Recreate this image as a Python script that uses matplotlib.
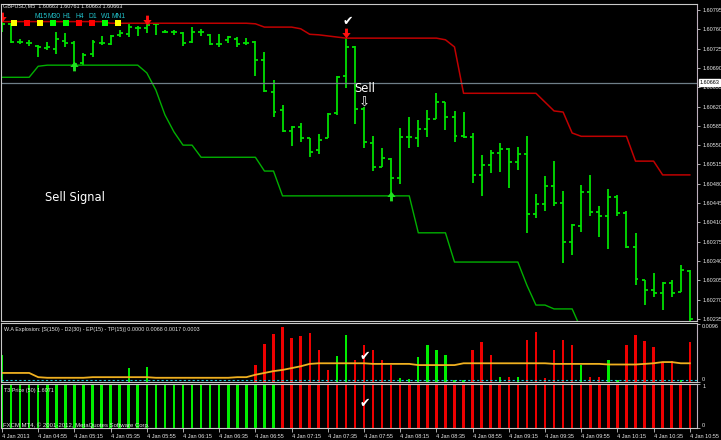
import numpy as np
import matplotlib
matplotlib.use("Agg")
import matplotlib.pyplot as plt
from matplotlib.path import Path
from matplotlib.patches import Rectangle

# ---- GBPUSD M5 bars, 04:35 .. 10:55 ----
bar_open = [1.60770, 1.60770, 1.60737, 1.60735, 1.60730, 1.60726, 1.60724, 1.60739, 1.60735, 1.60699,
            1.60715, 1.60735, 1.60733, 1.60750, 1.60751, 1.60762, 1.60762, 1.60770, 1.60755, 1.60755,
            1.60753, 1.60737, 1.60755, 1.60750, 1.60733, 1.60741, 1.60742, 1.60735, 1.60737, 1.60704,
            1.60646, 1.60614, 1.60575, 1.60583, 1.60563, 1.60541, 1.60563, 1.60608, 1.60675, 1.60728,
            1.60615, 1.60554, 1.60510, 1.60525, 1.60490, 1.60565, 1.60563, 1.60579, 1.60597, 1.60628,
            1.60601, 1.60566, 1.60565, 1.60496, 1.60514, 1.60536, 1.60543, 1.60519, 1.60534, 1.60425,
            1.60443, 1.60476, 1.60445, 1.60374, 1.60403, 1.60465, 1.60429, 1.60421, 1.60456, 1.60427,
            1.60365, 1.60305, 1.60287, 1.60282, 1.60300, 1.60284, 1.60322]
bar_high = [1.60775, 1.60771, 1.60742, 1.60741, 1.60731, 1.60737, 1.60755, 1.60753, 1.60739, 1.60717,
            1.60741, 1.60748, 1.60750, 1.60759, 1.60771, 1.60766, 1.60771, 1.60771, 1.60759, 1.60759,
            1.60755, 1.60764, 1.60761, 1.60751, 1.60751, 1.60748, 1.60746, 1.60744, 1.60739, 1.60719,
            1.60668, 1.60623, 1.60585, 1.60590, 1.60563, 1.60570, 1.60608, 1.60675, 1.60744, 1.60730,
            1.60619, 1.60566, 1.60545, 1.60527, 1.60581, 1.60601, 1.60595, 1.60614, 1.60644, 1.60628,
            1.60612, 1.60610, 1.60572, 1.60532, 1.60541, 1.60554, 1.60545, 1.60547, 1.60566, 1.60461,
            1.60494, 1.60521, 1.60467, 1.60407, 1.60478, 1.60496, 1.60440, 1.60470, 1.60460, 1.60430,
            1.60391, 1.60305, 1.60318, 1.60302, 1.60305, 1.60333, 1.60324]
bar_low = [1.60755, 1.60735, 1.60733, 1.60730, 1.60710, 1.60722, 1.60715, 1.60728, 1.60688, 1.60695,
           1.60710, 1.60731, 1.60731, 1.60746, 1.60746, 1.60748, 1.60753, 1.60750, 1.60753, 1.60750,
           1.60730, 1.60735, 1.60748, 1.60731, 1.60728, 1.60735, 1.60728, 1.60731, 1.60675, 1.60646,
           1.60601, 1.60574, 1.60548, 1.60556, 1.60528, 1.60534, 1.60563, 1.60605, 1.60654, 1.60588,
           1.60545, 1.60503, 1.60510, 1.60456, 1.60479, 1.60545, 1.60547, 1.60565, 1.60597, 1.60577,
           1.60556, 1.60563, 1.60481, 1.60458, 1.60499, 1.60501, 1.60472, 1.60505, 1.60391, 1.60418,
           1.60430, 1.60440, 1.60336, 1.60351, 1.60392, 1.60421, 1.60383, 1.60362, 1.60421, 1.60363,
           1.60296, 1.60260, 1.60275, 1.60251, 1.60275, 1.60284, 1.60215]
bar_close = [1.60770, 1.60737, 1.60737, 1.60735, 1.60728, 1.60728, 1.60742, 1.60735, 1.60697, 1.60713,
             1.60737, 1.60735, 1.60748, 1.60753, 1.60764, 1.60762, 1.60768, 1.60770, 1.60755, 1.60755,
             1.60735, 1.60755, 1.60755, 1.60733, 1.60733, 1.60746, 1.60733, 1.60735, 1.60704, 1.60648,
             1.60610, 1.60575, 1.60583, 1.60563, 1.60537, 1.60559, 1.60606, 1.60673, 1.60728, 1.60615,
             1.60556, 1.60510, 1.60527, 1.60490, 1.60565, 1.60565, 1.60579, 1.60597, 1.60628, 1.60601,
             1.60566, 1.60565, 1.60496, 1.60514, 1.60536, 1.60543, 1.60519, 1.60534, 1.60425, 1.60443,
             1.60476, 1.60445, 1.60374, 1.60405, 1.60465, 1.60429, 1.60421, 1.60456, 1.60427, 1.60365,
             1.60307, 1.60287, 1.60282, 1.60300, 1.60282, 1.60324, 1.60235]

# channel lines
upper_band = ([1.60774] * 12 + [1.60771] * 16 + [1.60770, 1.60764, 1.60764, 1.60764, 1.60764]
              + [1.60761, 1.60751, 1.60750, 1.60748, 1.60746] + [1.60744] * 11 + [1.60741, 1.60728]
              + [1.60644] * 9 + [1.60628, 1.60612, 1.60610, 1.60572] + [1.60566] * 6
              + [1.60521] * 3 + [1.60496] * 4)
lower_band = ([1.60673] * 4 + [1.60693] + [1.60695] * 11 + [1.60681, 1.60650, 1.60605, 1.60574]
              + [1.60550] * 2 + [1.60528] * 7 + [1.60503] * 2 + [1.60458] * 15 + [1.60391] * 4
              + [1.60338] * 8 + [1.60296] + [1.60260] * 2 + [1.60253] * 3 + [1.60216] + [1.60200] * 12)

sell_arrows = [0, 16, 38]
sell_arrow_price = [1.60782, 1.60777, 1.60753]
buy_arrows = [8, 43]
buy_arrow_price = [1.60693, 1.60458]
current_price = 1.60663
price_ticks = [1.60795, 1.60760, 1.60725, 1.60690, 1.60655, 1.60620, 1.60585, 1.60550, 1.60515,
               1.60480, 1.60445, 1.60410, 1.60375, 1.60340, 1.60305, 1.60270, 1.60235]

# W.A Explosion (x 1e-4)
wa_green = [45, 0, 0, 0, 0, 0, 0, 0, 0, 0, 0, 0, 0, 0, 23, 0, 25, 0, 0, 0,
            0, 0, 0, 0, 0, 0, 0, 0, 0, 0, 0, 0, 0, 0, 0, 0, 0, 43, 78, 0,
            0, 0, 0, 0, 7, 5, 41, 61, 53, 45, 3, 4, 0, 0, 0, 8, 0, 8, 0, 0,
            0, 0, 0, 0, 28, 0, 0, 36, 3, 0, 0, 0, 0, 0, 0, 4, 0]
wa_red = [0, 0, 0, 0, 0, 0, 0, 0, 0, 0, 0, 0, 0, 0, 0, 0, 0, 0, 0, 0,
          0, 0, 0, 0, 0, 0, 0, 0, 28, 63, 79, 91, 73, 76, 81, 53, 20, 0, 0, 36,
          61, 53, 36, 28, 0, 0, 0, 0, 0, 0, 0, 0, 53, 66, 45, 0, 8, 0, 70, 83,
          7, 53, 70, 61, 0, 8, 8, 0, 0, 61, 78, 68, 58, 33, 35, 0, 66]
wa_explosion = [15, 15, 15, 15, 8, 7, 7, 7, 7, 7, 8, 8, 8, 8, 8, 8, 8, 7, 7, 7,
                7, 7, 7, 7, 7, 7, 8, 8, 12, 15, 18, 20, 23, 26, 30, 31, 31, 31, 31, 31,
                31, 30, 30, 30, 30, 30, 28, 28, 28, 28, 28, 31, 31, 31, 31, 31, 31, 31, 31, 31,
                31, 30, 30, 30, 30, 30, 30, 29, 29, 29, 29, 30, 31, 33, 33, 31, 31]
wa_dead_zone = 3
t3_trend = [1] * 31 + [-1] * 46

time_labels = ["4 Jan 2013", "4 Jan 04:55", "4 Jan 05:15", "4 Jan 05:35", "4 Jan 05:55",
               "4 Jan 06:15", "4 Jan 06:35", "4 Jan 06:55", "4 Jan 07:15", "4 Jan 07:35",
               "4 Jan 07:55", "4 Jan 08:15", "4 Jan 08:35", "4 Jan 08:55", "4 Jan 09:15",
               "4 Jan 09:35", "4 Jan 09:55", "4 Jan 10:15", "4 Jan 10:35", "4 Jan 10:55"]

tf_names = ["", "", "M15", "M30", "H1", "H4", "D1", "W1", "MN1"]
tf_colors = ["#FFFF00", "#FF0000", "#FFFF00", "#00FF00", "#00FF00", "#FF0000", "#FF0000", "#00FF00", "#FFFF00"]

W, H = 721, 440
FG = "#C8C8C8"
TXT = "#E8E8E8"
SMALL = "Liberation Sans"


def px_box(x0, y0, x1, y1):
    return [x0 / W, 1 - y1 / H, (x1 - x0) / W, (y1 - y0) / H]


def fxy(x, y):
    return x / W, 1 - y / H


fig = plt.figure(figsize=(W / 100, H / 100), dpi=100, facecolor="black")
ax = fig.add_axes(px_box(0.5, 4, 697, 321))
ax2 = fig.add_axes(px_box(0.5, 323, 697, 382), sharex=ax)
ax3 = fig.add_axes(px_box(0.5, 384, 697, 428), sharex=ax)

for a in (ax, ax2, ax3):
    a.set_facecolor("black")
    for s in a.spines.values():
        s.set_color(FG)
        s.set_linewidth(0.8)
    a.spines["right"].set_color("#BDB0BD")
    a.yaxis.tick_right()
    a.tick_params(axis="y", direction="out", length=2.5, width=0.6, color=FG,
                  labelcolor=TXT, labelsize=4, pad=1.2)
    a.tick_params(axis="x", bottom=False, labelbottom=False)

n = len(bar_open)
x = np.arange(n)
green = "#00E000"

# price panel
ax.vlines(x, bar_low, bar_high, color=green, lw=1.3)
ax.hlines(bar_open, x - 0.33, x, color=green, lw=1.3)
ax.hlines(bar_close, x, x + 0.33, color=green, lw=1.3)
ax.plot(x, upper_band, color="#C00000", lw=1.1)
ax.plot(x, lower_band, color="#00B000", lw=1.0)
ax.axhline(current_price, color="#6F7F88", lw=0.9)

down = Path([(-0.3, 1), (0.3, 1), (0.3, 0.1), (0.85, 0.1), (0, -1), (-0.85, 0.1), (-0.3, 0.1), (-0.3, 1)])
up = Path([(-0.3, -1), (0.3, -1), (0.3, -0.1), (0.85, -0.1), (0, 1), (-0.85, -0.1), (-0.3, -0.1), (-0.3, -1)])
ax.plot(sell_arrows, sell_arrow_price, ls="none", marker=down, ms=7, color="#FF1010", mew=0)
ax.plot(buy_arrows, buy_arrow_price, ls="none", marker=up, ms=7, color="#20E020", mew=0)

ax.set_xlim(-1.5 / 9.05, 695 / 9.05)
ax.set_ylim(1.602311, 1.608059)
ax.set_yticks(price_ticks)
ax.set_yticklabels(["%.5f" % p for p in price_ticks], fontfamily=SMALL)
ax.text(1.0035, current_price, "%.5f" % current_price, transform=ax.get_yaxis_transform(),
        fontsize=4, fontfamily=SMALL, color="black", va="center", ha="left",
        bbox=dict(facecolor="white", edgecolor="white", pad=0.6), zorder=5, clip_on=False)

# W.A Explosion panel
scale = 1e-4
ax2.bar(x, np.array(wa_green) * scale, width=0.26, color="#00EE00")
ax2.bar(x, np.array(wa_red) * scale, width=0.26, color="#EE0000")
ax2.plot(x, np.array(wa_explosion) * scale, color="#F0B020", lw=1.3)
ax2.axhline(wa_dead_zone * scale, color="#20C8D8", lw=0.8, ls=(0, (2, 2)))
ax2.set_ylim(0, 0.00977)
ax2.set_yticks([0.0096, 0])
ax2.set_yticklabels(["0.0096", "0"], fontfamily=SMALL)
ax2.get_yticklabels()[0].set_va("top")
ax2.get_yticklabels()[1].set_va("bottom")

# T3 Price panel
t3 = np.array(t3_trend)
ax3.bar(x[t3 > 0], 1, width=0.28, color="#00EE00")
ax3.bar(x[t3 < 0], 1, width=0.28, color="#EE0000")
ax3.set_ylim(0, 1)
ax3.set_yticks([1, 0])
ax3.set_yticklabels(["1", "0"], fontfamily=SMALL)
ax3.get_yticklabels()[0].set_va("top")
ax3.get_yticklabels()[1].set_va("bottom")
ax3.set_xticks(x[::4])
ax3.set_xticklabels(time_labels, fontfamily=SMALL, ha="left")
ax3.tick_params(axis="x", bottom=True, labelbottom=True, direction="out", length=3, width=0.6,
                color=FG, labelcolor=TXT, labelsize=4, pad=1.5)

# texts
fig.text(*fxy(3, 6), "GBPUSD,M5  1.60663 1.60761 1.60663 1.60663", fontsize=4, fontfamily=SMALL,
         color=TXT, va="center")
for i, (name, col) in enumerate(zip(tf_names, tf_colors)):
    cx = 14 + 13.05 * i
    fig.add_artist(Rectangle(fxy(cx - 3, 26.5), 6 / W, 6 / H, transform=fig.transFigure,
                             facecolor=col, edgecolor="none"))
    if name:
        fig.text(*fxy(cx + 0.5, 16), name, fontsize=4.9, fontfamily=SMALL, color="#20C0C8",
                 ha="center", va="center")
fig.text(*fxy(45, 198), "Sell Signal", fontsize=8.3, color="white", va="center")
fig.text(*fxy(354, 89), "Sell", fontsize=8.3, color="white", va="center")
fig.text(*fxy(364, 103), "\u21e9", fontsize=9.5, color="white", ha="center", va="center")
for cx, cy in [(348, 22), (365, 356), (365, 403)]:
    fig.text(*fxy(cx, cy), "\u2714", fontsize=9, color="white", ha="center", va="center")
fig.text(*fxy(4, 329), "W.A Explosion: [S(150) - D2(30) - EP(15) - TP(15)] 0.0000 0.0068 0.0017 0.0003",
         fontsize=3.9, fontfamily=SMALL, color=TXT, va="center")
fig.text(*fxy(4, 390), "T3 Price (50) 1.6071", fontsize=3.9, fontfamily=SMALL, color=TXT, va="center")
fig.text(*fxy(3, 425), "FXCM MT4, \u00a9 2001-2012, MetaQuotes Software Corp.", fontsize=4.3,
         fontfamily=SMALL, color=TXT, va="center")

fig.savefig("out.png", dpi=100, facecolor="black")
